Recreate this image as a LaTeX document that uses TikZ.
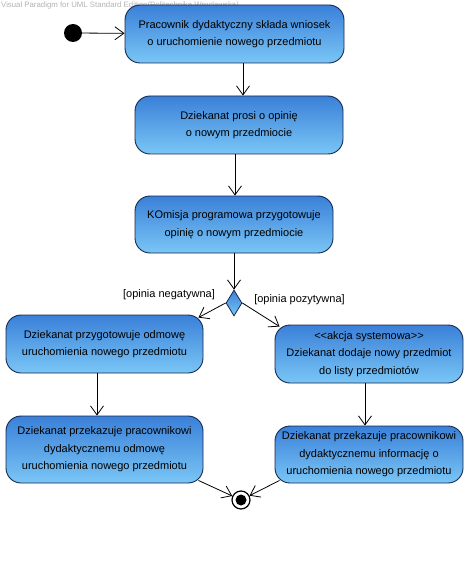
\documentclass[tikz,border=0pt]{standalone}
\usepackage{fontspec}
\setmainfont{Liberation Sans}
\usetikzlibrary{arrows.meta,shapes.geometric,calc}
\definecolor{boxtop}{RGB}{58,128,216}
\definecolor{boxbot}{RGB}{122,198,246}
\definecolor{boxline}{RGB}{22,40,78}
\tikzset{
  act/.style={draw=boxline, line width=0.9pt, rounded corners=15pt,
    top color=boxtop, bottom color=boxbot, align=center, inner sep=2pt,
    font=\fontsize{11}{17.5}\selectfont},
  arr/.style={draw=black, line width=0.8pt, -{Straight Barb[length=9pt,width=13pt,line width=0.8pt]}},
  guard/.style={font=\fontsize{11}{12}\selectfont, inner sep=0pt}
}
\begin{document}
\begin{tikzpicture}[x=1pt,y=-1pt]
\useasboundingbox (0,0) rectangle (470,580);
\node[anchor=west, text=black!30, font=\fontsize{7.8}{9}\selectfont, inner sep=0pt] (wm) at (1,5) {Visual Paradigm for UML Standard Edition(Politechnika Wroclawska)};
\node[circle, fill=black, minimum size=18pt, inner sep=0pt] (ini) at (73,33) {};
\node[act, minimum width=219pt, minimum height=58pt] (b1) at (234.5,34) {Pracownik dydaktyczny składa wniosek\\o uruchomienie nowego przedmiotu};
\node[act, minimum width=208pt, minimum height=58pt] (b2) at (239,125) {Dziekanat prosi o opinię\\o nowym przedmiocie};
\node[act, minimum width=198pt, minimum height=57pt] (b3) at (234,224.5) {KOmisja programowa przygotowuje\\opinię o nowym przedmiocie};
\node[diamond, draw=boxline, line width=0.8pt, top color=boxtop, bottom color=boxbot, minimum width=16pt, minimum height=26pt, inner sep=0pt] (d) at (234,303) {};
\node[guard] (gn) at (169,295) {[opinia negatywna]};
\node[guard] (gp) at (299.5,300) {[opinia pozytywna]};
\node[act, minimum width=197pt, minimum height=58pt] (b4) at (104.5,344) {Dziekanat przygotowuje odmowę\\uruchomienia nowego przedmiotu};
\node[act, minimum width=197pt, minimum height=67pt] (b5) at (104.5,449.5) {Dziekanat przekazuje pracownikowi\\dydaktycznemu odmowę\\uruchomienia nowego przedmiotu};
\node[act, minimum width=188pt, minimum height=58pt] (b6) at (369,354) {{<}{<}akcja systemowa{>}{>}\\Dziekanat dodaje nowy przedmiot\\do listy przedmiotów};
\node[act, minimum width=188pt, minimum height=57pt] (b7) at (369,454.5) {Dziekanat przekazuje pracownikowi\\dydaktycznemu informację o\\uruchomienia nowego przedmiotu};
\node[circle, draw=black, line width=1.2pt, fill=white, minimum size=18pt, inner sep=0pt] (fin) at (241,500) {};
\node[circle, fill=black, minimum size=11pt, inner sep=0pt] (fini) at (fin) {};
\draw[arr] (ini) -- (b1);
\draw[arr] (b1.south -| 243,0) -- (b2.north -| 243,0);
\draw[arr] (b2.south -| 235,0) -- (b3.north -| 235,0);
\draw[arr] (b3.south -| d) -- (d.north);
\draw[arr] (d.west) -- ($(b4.north east)+(-5,3)$);
\draw[arr] (d.east) -- ($(b6.north west)+(5,2)$);
\draw[arr] (b4.south -| 97,0) -- (b5.north -| 97,0);
\draw[arr] (b6.south -| 365,0) -- (b7.north -| 365,0);
\draw[arr] ($(b5.south east)+(-5,-3)$) -- (fin);
\draw[arr] ($(b7.south west)+(5,-3)$) -- (fin);
\end{tikzpicture}
\end{document}
